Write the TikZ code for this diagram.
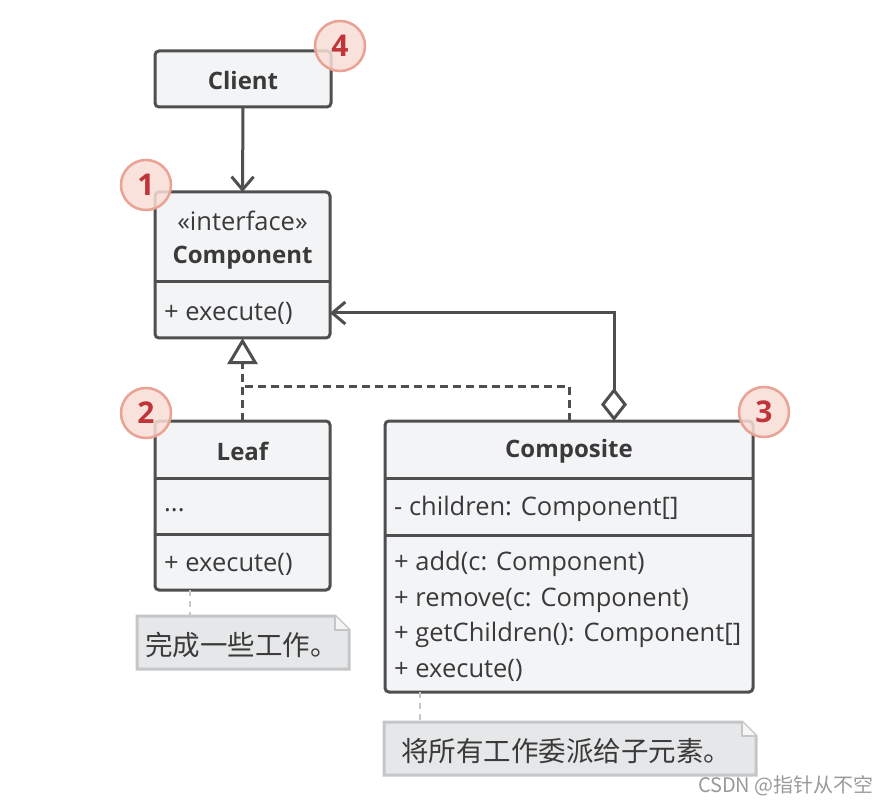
\documentclass[tikz,border=0pt]{standalone}
\usepackage{fontspec}
\setmainfont{Open Sans}
\newfontfamily\cjk{Noto Sans CJK SC}
\usetikzlibrary{arrows.meta,calc}
\definecolor{boxfill}{HTML}{F3F4F6}
\definecolor{boxline}{HTML}{4F4F4F}
\definecolor{txt}{HTML}{3A3A3A}
\definecolor{notefill}{HTML}{E6E7E8}
\definecolor{noteline}{HTML}{C5C6C7}
\definecolor{badgefill}{HTML}{F8DED6}
\definecolor{badgeline}{HTML}{E9A293}
\definecolor{badgetxt}{HTML}{C0353A}
\definecolor{wm}{HTML}{9A9A9A}
\tikzset{
  umlbox/.style={draw=boxline, fill=boxfill, line width=3pt, rounded corners=4pt, inner sep=0pt, outer sep=0pt},
  divider/.style={draw=boxline, line width=3pt},
  label/.style={text=txt, inner sep=0pt, font=\fontsize{25.5}{30}\selectfont},
  title/.style={label, font=\fontsize{24}{28}\selectfont\bfseries},
  badge/.style={circle, draw=badgeline, line width=2.5pt, fill=badgefill, fill opacity=0.85, text opacity=1, minimum size=50pt, inner sep=0pt, text=badgetxt, font=\fontsize{30}{34}\selectfont\bfseries},
  link/.style={draw=boxline, line width=3pt},
  notebox/.style={draw=noteline, fill=notefill, line width=3pt, line join=miter},
  notelink/.style={draw=noteline, line width=2.5pt, dash pattern=on 6pt off 5pt},
  notetext/.style={text=txt, inner sep=0pt, anchor=west, font=\cjk\fontsize{27.5}{32}\selectfont},
}
\begin{document}
\begin{tikzpicture}[x=1pt,y=-1pt]
\useasboundingbox (0,0) rectangle (887,805);
\fill[white] (0,0) rectangle (887,805);

% Client
\node[umlbox, minimum width=176pt, minimum height=56pt] (client) at (243,79) {};
\node[title] (clientT) at (243,80.5) {Client};

% Component
\node[umlbox, minimum width=175pt, minimum height=146pt] (comp) at (242.5,265) {};
\draw[divider] (155,282) -- (330,282);
\node[label] (compS) at (242.5,220.5) {«interface»};
\node[title] (compT) at (242.5,258) {Component};
\node[label, anchor=west] (compM) at (164,313) {+ execute()};

% Leaf
\node[umlbox, minimum width=175pt, minimum height=169pt] (leaf) at (242.5,505.5) {};
\draw[divider] (155,478) -- (330,478);
\draw[divider] (155,534) -- (330,534);
\node[title] (leafT) at (242.5,451) {Leaf};
\node[label, anchor=west] (leafA) at (164,510) {...};
\node[label, anchor=west] (leafM) at (164,564) {+ execute()};

% Composite
\node[umlbox, minimum width=368pt, minimum height=271pt] (compo) at (569,556.5) {};
\draw[divider] (385,478) -- (753,478);
\draw[divider] (385,535) -- (753,535);
\node[title] (compoT) at (569,451) {Composite};
\node[label, anchor=west] (compoA) at (394,509) {- children: Component[]};
\node[label, anchor=west] (compoM1) at (394,564) {+ add(c: Component)};
\node[label, anchor=west] (compoM2) at (394,600) {+ remove(c: Component)};
\node[label, anchor=west] (compoM3) at (394,635) {+ getChildren(): Component[]};
\node[label, anchor=west] (compoM4) at (394,670) {+ execute()};

% Connectors
\draw[link, -{Straight Barb[length=13pt, width=22pt, line width=3pt]}] (client.south) -- (comp.north);
\coordinate (junction) at (243,386);
\draw[link, dash pattern=on 8pt off 5pt, -{Triangle[open, length=26pt, width=30pt, line width=3pt, fill=white]}] (leaf.north) -- (comp.south);
\draw[link, dash pattern=on 8pt off 5pt] (compo.north -| 569,0) |- (junction);
\coordinate (aggturn) at (614,313);
\draw[link, {Diamond[open, length=33pt, width=26pt, line width=3pt, fill=white]}-{Straight Barb[length=13pt, width=22pt, line width=3pt]}] (compo.north -| 614,0) -- (aggturn) -- (comp.east |- aggturn);

% Notes
\path[notebox] (137,616) -- (335,616) -- (349,630) -- (349,669) -- (137,669) -- cycle;
\path[draw=noteline, fill=white!60!notefill, line width=2pt] (335,616) -- (335,630) -- (349,630);
\node[notetext] (leafnote) at (145,645) {完成一些工作。};
\coordinate (leafnoteTop) at (190,616);
\draw[notelink] (leaf.south -| leafnoteTop) -- (leafnoteTop);

\path[notebox] (384,722) -- (742,722) -- (756,736) -- (756,775) -- (384,775) -- cycle;
\path[draw=noteline, fill=white!60!notefill, line width=2pt] (742,722) -- (742,736) -- (756,736);
\node[notetext] (compnote) at (401,751) {将所有工作委派给子元素。};
\coordinate (compnoteTop) at (420,722);
\draw[notelink] (compo.south -| compnoteTop) -- (compnoteTop);

% Badges
\node[badge] (b4) at (340,46) {4};
\node[badge] (b1) at (146,185) {1};
\node[badge] (b2) at (146,413) {2};
\node[badge] (b3) at (764,412) {3};

% Watermark
\node[text=wm, anchor=east, inner sep=0pt, font=\cjk\fontsize{20}{22}\selectfont] (wm) at (874,786) {CSDN @指针从不空};
\end{tikzpicture}
\end{document}
